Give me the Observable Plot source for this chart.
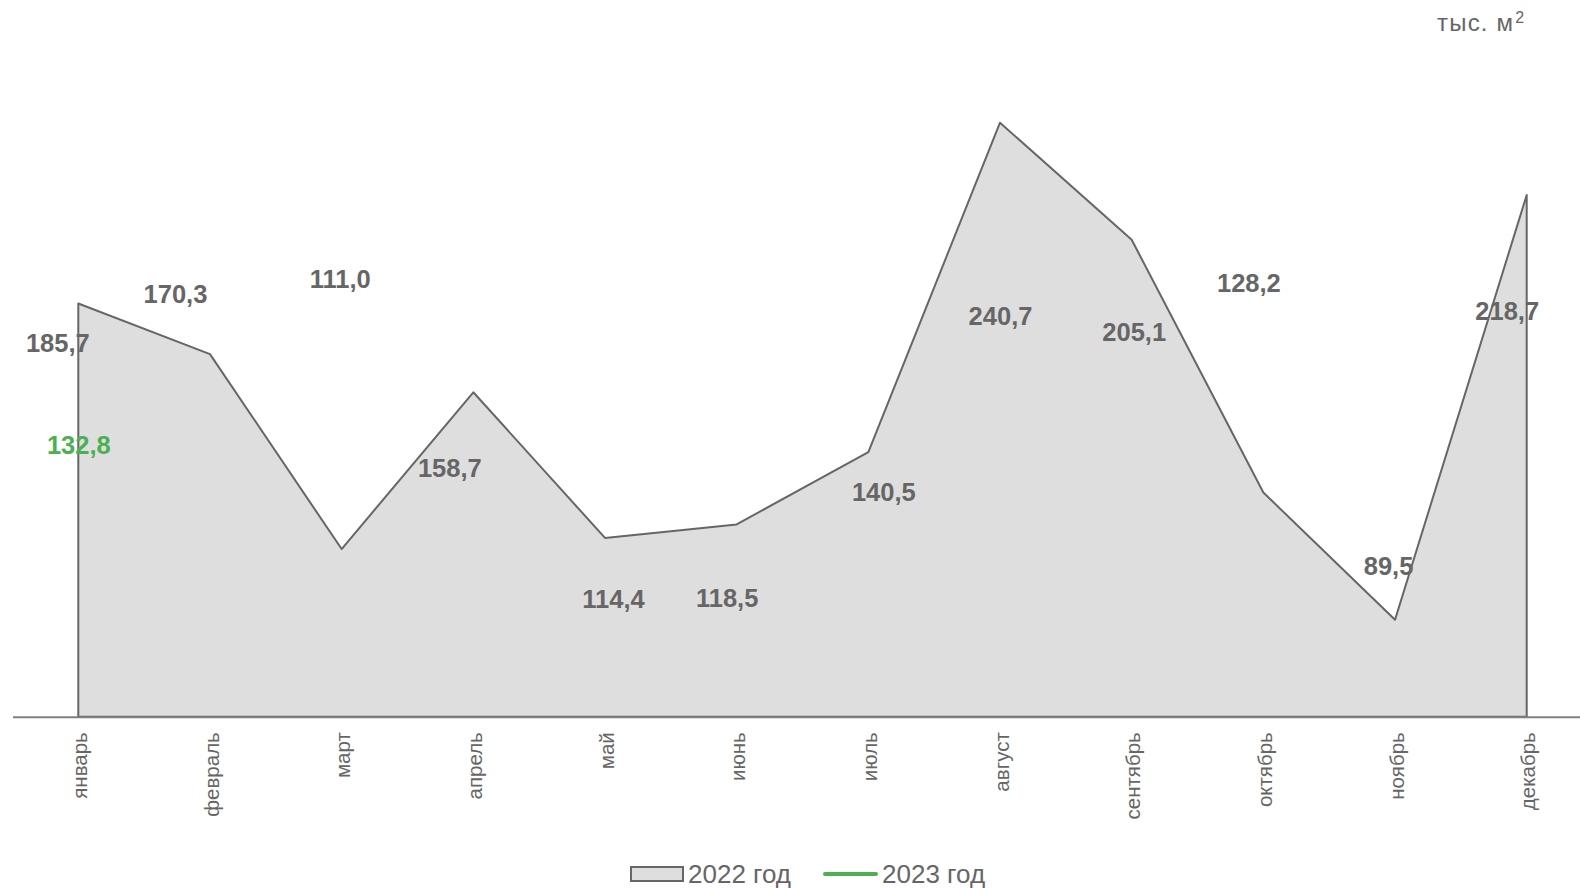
<!DOCTYPE html>
<html>
<head>
<meta charset="utf-8">
<script src="https://cdn.jsdelivr.net/npm/d3@7"></script>
<script src="https://cdn.jsdelivr.net/npm/@observablehq/plot@0.6"></script>
<style>
  html, body { margin: 0; padding: 0; background: #fff; }
  #wrap { position: relative; width: 1580px; height: 888px; font-family: "Liberation Sans", Arial, sans-serif; color: #666; }
  #unit { position: absolute; left: 1437px; top: 10.7px; font-size: 24px; line-height: 24px; letter-spacing: 1.2px; white-space: nowrap; }
  #unit span { position: relative; top: -8px; font-size: 16px; letter-spacing: 0; margin-left: 1px; }
  #chart { position: absolute; left: 0; top: 0; }
  #legend { position: absolute; left: 630px; top: 859px; height: 30px; display: flex; align-items: center; font-size: 26px; color: #666; white-space: nowrap; }
  .sw-rect { width: 50px; height: 12px; background: #dedede; border: 2px solid #666; margin-right: 4px; }
  .sw-line { width: 55px; height: 4px; border-radius: 2px; background: #4caf50; margin-left: 32px; margin-right: 4px; }
</style>
</head>
<body>
<div id="wrap">
  <div id="chart"></div>
  <div id="unit">тыс. м<span>2</span></div>
  <div id="legend"></div>
</div>
<script>
const months = ["январь", "февраль", "март", "апрель", "май", "июнь", "июль", "август", "сентябрь", "октябрь", "ноябрь", "декабрь"];
const values2022 = [185.7, 170.3, 111.0, 158.7, 114.4, 118.5, 140.5, 240.7, 205.1, 128.2, 89.5, 218.7];
const months2023 = ["январь"];
const values2023 = [132.8];
const seriesNames = ["2022 год", "2023 год"];
const yMin = 60;
const yMax = 260;

// label placement offsets (pixels) relative to each point
const labelOffsets2022 = [[-21, 40], [-35, -60], [-2, -270], [-24, 76], [8, 61], [-10, 74], [15, 40], [0, 194], [2, 93], [-15, -209], [-7, -53], [-20, 116]];
const labelOffsets2023 = [[0, -32]];

const data2022 = months.map((m, i) => ({month: m, value: values2022[i]}));
const data2023 = months2023.map((m, i) => ({month: m, value: values2023[i]}));
const fmt = v => v.toFixed(1).replace(".", ",");

const gray = "#666";
const green = "#4caf50";

const labelMarks2022 = data2022.map((d, i) => Plot.text([d], {
  x: "month", y: "value", text: d => fmt(d.value),
  dx: labelOffsets2022[i][0], dy: labelOffsets2022[i][1],
  fontSize: 25.5, fontWeight: "bold", fill: gray
}));
const labelMarks2023 = data2023.map((d, i) => Plot.text([d], {
  x: "month", y: "value", text: d => fmt(d.value),
  dx: labelOffsets2023[i][0], dy: labelOffsets2023[i][1],
  fontSize: 25.5, fontWeight: "bold", fill: green
}));

const chart = Plot.plot({
  width: 1580,
  height: 845,
  marginTop: 59.3,
  marginBottom: 128.3,
  marginLeft: 13,
  marginRight: 0,
  style: {fontFamily: "'Liberation Sans', Arial, sans-serif", background: "transparent", overflow: "visible"},
  x: {type: "point", domain: months, range: [78.3, 1526.7], padding: 0, round: false},
  y: {domain: [yMin, yMax], axis: null},
  marks: [
    Plot.areaY(data2022, {x: "month", y1: yMin, y2: "value", fill: "#dedede", stroke: gray, strokeWidth: 2}),
    Plot.ruleY([yMin], {stroke: "#7f7f7f", strokeWidth: 2}),
    Plot.axisX({tickSize: 0, tickRotate: -90, tickPadding: 15, dx: 1.5, fontSize: 20.5, color: gray, label: null}),
    ...labelMarks2022,
    ...labelMarks2023
  ]
});
document.getElementById("chart").appendChild(chart);

const legend = document.getElementById("legend");
legend.innerHTML =
  `<div class="sw-rect"></div><span>${seriesNames[0]}</span>` +
  `<div class="sw-line"></div><span>${seriesNames[1]}</span>`;
</script>
</body>
</html>
